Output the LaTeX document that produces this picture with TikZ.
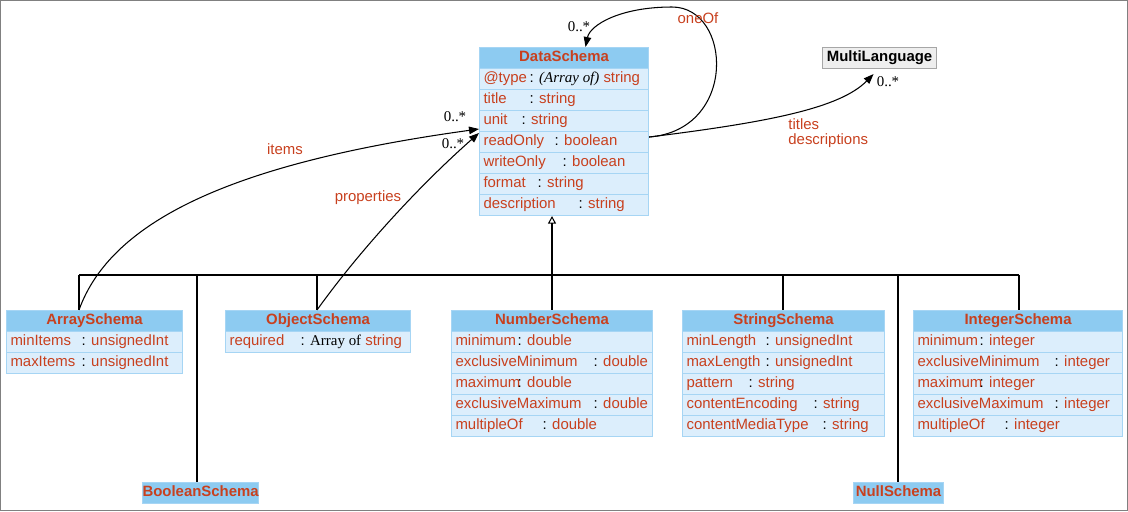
\documentclass[tikz,border=0pt]{standalone}
\usepackage{fontspec}
\setmainfont{Liberation Sans}
\newfontfamily\timesfont{Liberation Serif}
\usepackage{tikz}
\usepackage{xcolor}
\usetikzlibrary{arrows.meta}

\newlength\px
\setlength\px{0.02cm}
\definecolor{attrtext}{HTML}{C8401E}
\definecolor{headfill}{HTML}{8DCBF1}
\definecolor{rowfill}{HTML}{DCEEFC}
\definecolor{boxline}{HTML}{A6D5F4}
\newcommand\diafont{\fontsize{8.5}{10}\selectfont}
\newcommand\attrline[3]{\makebox[\cw\px][l]{\makebox[#2\px][l]{#1}\textcolor{black}{:} #3}}

\tikzset{
  head/.style={draw=boxline, fill=headfill, text=attrtext, font=\diafont\bfseries,
    minimum height=21*\px, inner sep=0pt, text height=6.3pt, text depth=1.8pt,
    anchor=north west},
  attr/.style={draw=boxline, fill=rowfill, text=attrtext, minimum height=21*\px,
    inner xsep=4*\px, inner ysep=0pt, text height=6.3pt, text depth=1.8pt,
    anchor=north west},
  lbl/.style={text=attrtext},
  mult/.style={font=\timesfont\fontsize{8.5}{10}\selectfont},
  assoc/.style={-{Triangle[length=0.2cm,width=0.15cm]}},
  inherit/.style={-{Triangle[open,length=0.15cm,width=0.16cm]}}
}

\begin{document}
\begin{tikzpicture}[x=\px, y=-\px, font=\diafont, line width=0.6pt]

    \useasboundingbox (0,0) rectangle (1128,511);
    \draw[gray, line width=0.8pt] (0.7,0.7) rectangle (1127.3,510.3);

    % DataSchema
    \def\cw{161}
    \node[head, minimum width=169*\px] (data) at (479,47) {DataSchema};
    \foreach \a/\c/\t [count=\i] in {
        {@type}/46/{\textcolor{black}{\timesfont\itshape (Array of)} string},
        title/46/string, unit/38/string, readOnly/71/boolean,
        writeOnly/79/boolean, format/54/string, description/95/string}
        \node[attr] (data\i) at (479,{47+21*\i}) {\attrline{\a}{\c}{\t}};

    \node[head, fill=gray!13, draw=gray!70, text=black, minimum width=114*\px]
        (ml) at (822,47) {MultiLanguage};

    % ArraySchema
    \def\cw{168}
    \node[head, minimum width=176*\px] (array) at (6,310) {ArraySchema};
    \foreach \a/\c/\t [count=\i] in {minItems/71/unsignedInt, maxItems/71/unsignedInt}
        \node[attr] (array\i) at (6,{310+21*\i}) {\attrline{\a}{\c}{\t}};

    % ObjectSchema
    \def\cw{177}
    \node[head, minimum width=185*\px] (object) at (225,310) {ObjectSchema};
    \node[attr] (object1) at (225,331)
        {\attrline{required}{71}{\textcolor{black}{\timesfont Array of} string}};

    % NumberSchema
    \def\cw{193}
    \node[head, minimum width=201*\px] (number) at (451,310) {NumberSchema};
    \foreach \a/\c/\t [count=\i] in {minimum/62/double, exclusiveMinimum/138/double,
        maximum/62/double, exclusiveMaximum/138/double, multipleOf/87/double}
        \node[attr] (number\i) at (451,{310+21*\i}) {\attrline{\a}{\c}{\t}};

    % StringSchema
    \def\cw{194}
    \node[head, minimum width=202*\px] (string) at (682,310) {StringSchema};
    \foreach \a/\c/\t [count=\i] in {minLength/79/unsignedInt, maxLength/79/unsignedInt,
        pattern/62/string, contentEncoding/127/string, contentMediaType/136/string}
        \node[attr] (string\i) at (682,{310+21*\i}) {\attrline{\a}{\c}{\t}};

    % IntegerSchema
    \def\cw{201}
    \node[head, minimum width=209*\px] (integer) at (913,310) {IntegerSchema};
    \foreach \a/\c/\t [count=\i] in {minimum/62/integer, exclusiveMinimum/137/integer,
        maximum/62/integer, exclusiveMaximum/137/integer, multipleOf/87/integer}
        \node[attr] (integer\i) at (913,{310+21*\i}) {\attrline{\a}{\c}{\t}};

    % schemas without attributes
    \node[head, minimum width=114*\px] (bool) at (142,482) {BooleanSchema};
    \node[head, minimum width=90*\px] (null) at (853,482) {NullSchema};

    % generalization
    \coordinate (bus) at (552,275);
    \draw (79,275) -- (1019,275);
    \foreach \n/\x in {array/79, bool/197, object/317, number/552,
        string/783, null/898, integer/1019}
        \draw (\x,275) -- (\n.north -| \x,0);
    \draw[inherit] (bus) -- (data7.south -| bus);

    % associations
    \draw[assoc] (array.north -| 79,0) .. controls (112,218) and (240,162)
        .. ([yshift=0.04cm]data4.north west);
    \draw[assoc] (object.north -| 317,0) .. controls (360,250) and (420,185)
        .. ([yshift=-0.04cm]data4.north west);
    \draw[assoc] ([yshift=0.1cm]data4.east) .. controls (738,130) and (732,7)
        .. (672,7) .. controls (620,7) and (590,25) .. ([xshift=0.43cm]data.north);
    \draw[assoc] ([yshift=0.1cm]data4.east) .. controls (770,122) and (840,108)
        .. ([xshift=-0.12cm,yshift=-0.1cm]ml.south);

    \node[lbl] (l-items) at (285,149) {items};
    \node[lbl] (l-props) at (368,198) {properties};
    \node[lbl] (l-oneof) at (698,18) {oneOf};
    \node[lbl, anchor=west, align=left, font=\fontsize{8.5}{8.5}\selectfont]
        (l-titles) at (782,133.5) {titles\\descriptions};

    \node[mult] (m-items) at (455,117) {0..*};
    \node[mult] (m-props) at (453,144) {0..*};
    \node[mult] (m-oneof) at (579,27) {0..*};
    \node[mult] (m-ml) at (888,82) {0..*};

\end{tikzpicture}
\end{document}
